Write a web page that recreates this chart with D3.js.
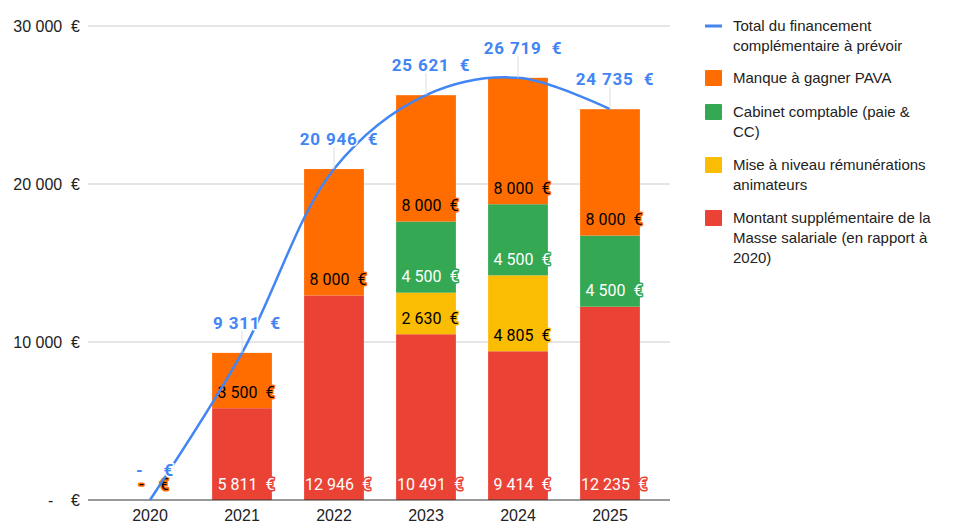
<!DOCTYPE html>
<html>
<head>
<meta charset="utf-8">
<script src="https://cdn.jsdelivr.net/npm/d3@7"></script>
<style>
  body { margin: 0; background: #fff; }
  text { white-space: pre; }
</style>
</head>
<body>
<div id="chart"></div>
<script>
// data
const years = ['2020', '2021', '2022', '2023', '2024', '2025'];
const masseSalariale = [0, 5811, 12946, 10491, 9414, 12235];
const miseANiveau = [0, 0, 0, 2630, 4805, 0];
const cabinet = [0, 0, 0, 4500, 4500, 4500];
const manquePava = [0, 3500, 8000, 8000, 8000, 8000];
const totals = [0, 9311, 20946, 25621, 26719, 24735];
const yTicks = [0, 10000, 20000, 30000];

const series = [
  {name: 'Montant supplémentaire de la\nMasse salariale (en rapport à\n2020)', values: masseSalariale, color: '#ea4335', label: '#fff'},
  {name: 'Mise à niveau rémunérations\nanimateurs', values: miseANiveau, color: '#fbbc04', label: '#000'},
  {name: 'Cabinet comptable (paie &\nCC)', values: cabinet, color: '#34a853', label: '#fff'},
  {name: 'Manque à gagner PAVA', values: manquePava, color: '#ff6d01', label: '#000'}
];
const lineName = 'Total du financement\ncomplémentaire à prévoir';

const W = 957, H = 525;
const svg = d3.select('#chart').append('svg').attr('width', W).attr('height', H);

const locale = d3.formatLocale({decimal: ',', thousands: ' ', grouping: [3], currency: ['', '']});
const num = locale.format(',d');
const euro = v => v === 0 ? '-    €' : num(v) + '  €';

// scales
const x = d3.scaleBand().domain(years).range([104, 656]).paddingInner(0.35).paddingOuter(0.175);
const y = d3.scaleLinear().domain([0, 30000]).range([500, 26]);
const gridLeft = 88, gridRight = 670;

// grid + y labels
svg.append('g').selectAll('line').data(yTicks.filter(d => d > 0)).join('line')
  .attr('x1', gridLeft).attr('x2', gridRight)
  .attr('y1', d => y(d)).attr('y2', d => y(d))
  .attr('stroke', '#cccccc').attr('stroke-width', 1);

svg.append('g').selectAll('text').data(yTicks).join('text')
  .attr('x', 80).attr('y', d => y(d)).attr('dy', '0.35em')
  .attr('text-anchor', 'end')
  .attr('font-family', 'Liberation Sans, Arial, sans-serif').attr('font-size', 16).attr('fill', '#222')
  .text(d => euro(d));

// stacked bars
const rows = years.map((yr, i) => {
  const r = {year: yr};
  series.forEach((s, k) => r['s' + k] = s.values[i]);
  return r;
});
const stack = d3.stack().keys(series.map((s, k) => 's' + k))(rows);

stack.forEach((layer, k) => {
  svg.append('g').selectAll('rect').data(layer).join('rect')
    .attr('x', d => x(d.data.year))
    .attr('width', x.bandwidth())
    .attr('y', d => y(d[1]))
    .attr('height', d => y(d[0]) - y(d[1]))
    .attr('fill', series[k].color);
});

// baseline
svg.append('line').attr('x1', gridLeft).attr('x2', gridRight).attr('y1', y(0)).attr('y2', y(0))
  .attr('stroke', '#333').attr('stroke-width', 1);

// segment labels
stack.forEach((layer, k) => {
  const s = series[k];
  const shown = layer.filter((d, i) => d.data['s' + k] > 0 || (totals[i] === 0 && k === series.length - 1));
  svg.append('g').selectAll('text').data(shown).join('text')
    .attr('x', d => x(d.data.year) + x.bandwidth() / 2 + 4)
    .attr('y', d => y(d[0]) - 16).attr('dy', '0.35em')
    .attr('text-anchor', 'middle')
    .attr('font-family', 'Roboto, sans-serif').attr('font-size', 16)
    .attr('fill', s.label)
    .attr('stroke', s.color).attr('stroke-width', 3).attr('paint-order', 'stroke').attr('stroke-linejoin', 'round')
    .text(d => euro(d.data['s' + k]));
});

// total line
const pts = years.map((yr, i) => [x(yr) + x.bandwidth() / 2, y(totals[i])]);
svg.append('path').attr('d', d3.line().curve(d3.curveCatmullRom.alpha(0.5))(pts))
  .attr('fill', 'none').attr('stroke', '#4285f4').attr('stroke-width', 2.5);

// leader lines + total labels
svg.append('g').selectAll('line').data(pts.slice(1)).join('line')
  .attr('x1', d => d[0]).attr('x2', d => d[0])
  .attr('y1', d => d[1] - 22).attr('y2', d => d[1])
  .attr('stroke', '#dddddd').attr('stroke-width', 1);

svg.append('g').selectAll('text').data(pts).join('text')
  .attr('x', d => d[0] + 5).attr('y', d => d[1] - 30).attr('dy', '0.35em')
  .attr('text-anchor', 'middle')
  .attr('font-family', 'Roboto, sans-serif').attr('font-size', 17).attr('font-weight', 'bold')
  .attr('letter-spacing', 0.8)
  .attr('fill', '#4285f4')
  .attr('stroke', '#fff').attr('stroke-width', 3).attr('paint-order', 'stroke')
  .text((d, i) => euro(totals[i]));

// x labels
svg.append('g').selectAll('text').data(years).join('text')
  .attr('x', d => x(d) + x.bandwidth() / 2).attr('y', 521)
  .attr('text-anchor', 'middle')
  .attr('font-family', 'Liberation Sans, Arial, sans-serif').attr('font-size', 16).attr('fill', '#222')
  .text(d => d);

// legend
const legendItems = [{name: lineName, color: '#4285f4', line: true}]
  .concat(series.slice().reverse().map(s => ({name: s.name, color: s.color, line: false})));
const legendY = [26, 78, 112, 165, 218];
const legend = svg.append('g').attr('font-family', 'Liberation Sans, Arial, sans-serif').attr('font-size', 15);
legendItems.forEach((it, i) => {
  const g = legend.append('g').attr('transform', `translate(705, ${legendY[i]})`);
  if (it.line) {
    g.append('rect').attr('x', 0).attr('y', -1.5).attr('width', 17).attr('height', 3).attr('fill', it.color);
  } else {
    g.append('rect').attr('x', 0).attr('y', -8).attr('width', 17).attr('height', 16).attr('rx', 1).attr('fill', it.color);
  }
  it.name.split('\n').forEach((ln, j) => {
    g.append('text').attr('x', 28).attr('y', j * 20).attr('dy', '0.35em').attr('fill', '#222').text(ln);
  });
});
</script>
</body>
</html>
